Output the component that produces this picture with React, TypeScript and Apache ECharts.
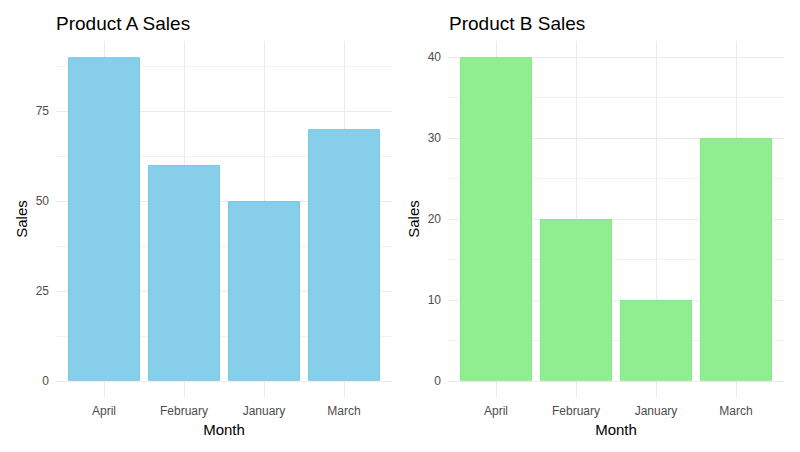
import React, { useEffect, useRef } from "react";
import * as echarts from "echarts";

const months = ["April", "February", "January", "March"];
const salesA = [90, 60, 50, 70];
const salesB = [40, 20, 10, 30];
const ticksA = [0, 25, 50, 75];
const minorA = [12.5, 37.5, 62.5, 87.5];
const ticksB = [0, 10, 20, 30, 40];
const minorB = [5, 15, 25, 35];

const FONT = "'Liberation Sans', Arial, sans-serif";

export default function App() {
  const ref = useRef<HTMLDivElement>(null);
  useEffect(() => {
    if (!ref.current) return;
    const chart = echarts.init(ref.current, null, { renderer: "svg" });
    const pos = months.map((_, i) => i + 1);

    const gridLines = (majors: number[], minors: number[]) => [
      ...minors.map((v) => ({ yAxis: v, lineStyle: { color: "#F3F3F3", width: 1, type: "solid" } })),
      ...majors.map((v) => ({ yAxis: v, lineStyle: { color: "#EBEBEB", width: 1, type: "solid" } })),
      ...pos.map((v) => ({ xAxis: v, lineStyle: { color: "#EBEBEB", width: 1, type: "solid" } })),
    ];

    const xAxisBase = (gridIndex: number) => ({
      type: "value",
      gridIndex,
      min: 0.4,
      max: 4.6,
      splitLine: { show: false },
      axisLine: { show: false },
      axisTick: { show: false },
      axisLabel: {
        customValues: pos,
        formatter: (v: number) => months[Math.round(v) - 1] ?? "",
        color: "#4D4D4D",
        fontSize: 12,
        fontFamily: FONT,
        margin: 8,
      },
      name: "Month",
      nameLocation: "middle",
      nameGap: 23,
      nameTextStyle: { color: "#000", fontSize: 15, fontFamily: FONT },
    });

    const yAxisBase = (gridIndex: number, min: number, max: number, ticks: number[]) => ({
      type: "value",
      gridIndex,
      min,
      max,
      splitLine: { show: false },
      axisLine: { show: false },
      axisTick: { show: false },
      axisLabel: {
        customValues: ticks,
        color: "#4D4D4D",
        fontSize: 12,
        fontFamily: FONT,
        margin: 7,
      },
      name: "Sales",
      nameLocation: "middle",
      nameGap: 27,
      nameTextStyle: { color: "#000", fontSize: 15, fontFamily: FONT },
    });

    chart.setOption({
      animation: false,
      backgroundColor: "#fff",
      title: [
        { text: "Product A Sales", left: 51, top: 9, textStyle: { color: "#000", fontSize: 19, fontWeight: "normal", fontFamily: FONT } },
        { text: "Product B Sales", left: 444, top: 9, textStyle: { color: "#000", fontSize: 19, fontWeight: "normal", fontFamily: FONT } },
      ],
      grid: [
        { left: 56, width: 336, top: 41, height: 356 },
        { left: 448, width: 336, top: 41, height: 356 },
      ],
      xAxis: [xAxisBase(0), xAxisBase(1)],
      yAxis: [yAxisBase(0, -4.5, 94.5, ticksA), yAxisBase(1, -2, 42, ticksB)],
      series: [
        {
          type: "line",
          xAxisIndex: 0,
          yAxisIndex: 0,
          data: [],
          z: 1,
          silent: true,
          markLine: { z: 1, silent: true, symbol: ["none", "none"], label: { show: false }, data: gridLines(ticksA, minorA) },
        },
        {
          type: "line",
          xAxisIndex: 1,
          yAxisIndex: 1,
          data: [],
          z: 1,
          silent: true,
          markLine: { z: 1, silent: true, symbol: ["none", "none"], label: { show: false }, data: gridLines(ticksB, minorB) },
        },
        {
          type: "bar",
          xAxisIndex: 0,
          yAxisIndex: 0,
          z: 3,
          barWidth: 72,
          data: salesA.map((v, i) => [pos[i], v]),
          itemStyle: { color: "#87CEEB", borderColor: "#7CC6E8", borderWidth: 1 },
        },
        {
          type: "bar",
          xAxisIndex: 1,
          yAxisIndex: 1,
          z: 3,
          barWidth: 72,
          data: salesB.map((v, i) => [pos[i], v]),
          itemStyle: { color: "#90EE90", borderColor: "#86E886", borderWidth: 1 },
        },
      ],
    });
    return () => chart.dispose();
  }, []);
  return <div ref={ref} style={{ position: "absolute", left: 0, top: 0, width: 800, height: 452 }} />;
}
